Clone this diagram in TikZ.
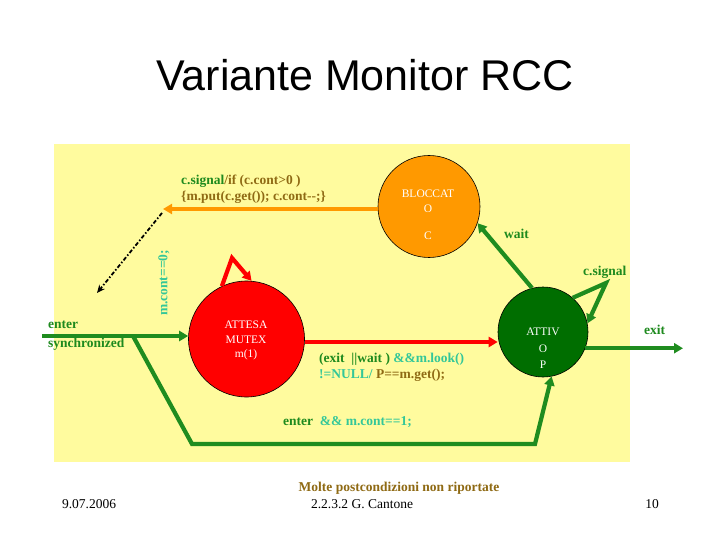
\documentclass[tikz,border=0pt]{standalone}
\usepackage{fontspec}
\setmainfont{Liberation Serif}
\newfontfamily\titlefont{Liberation Sans}
\usetikzlibrary{arrows.meta}
\definecolor{bgyellow}{HTML}{FFFB9E}
\definecolor{borange}{HTML}{FF9900}
\definecolor{bred}{HTML}{FF0000}
\definecolor{cgreen}{HTML}{006E00}
\definecolor{agreen}{HTML}{1F8C1F}
\definecolor{tgreen}{HTML}{1E8A1E}
\definecolor{tteal}{HTML}{33C799}
\definecolor{tolive}{HTML}{8F6A14}
\tikzset{
  state/.style={circle, draw=black, line width=0.6pt, inner sep=0pt},
  tip/.style={-{Triangle[length=9pt,width=10pt]}},
  garrow/.style={draw=agreen, line width=4.2pt, tip, line join=miter},
  rarrow/.style={draw=bred, line width=4.2pt, tip},
  oarrow/.style={draw=borange, line width=4.2pt, tip},
  lbl/.style={font=\fontsize{13.5}{16}\selectfont\bfseries, inner sep=0pt, anchor=base west},
  intext/.style={font=\fontsize{11.5}{13}\selectfont, text=white, inner sep=0pt, anchor=base},
  foot/.style={font=\fontsize{13.5}{15}\selectfont, inner sep=0pt, anchor=base},
}
\begin{document}
\begin{tikzpicture}[x=1pt,y=-1pt]
\useasboundingbox (0,0) rectangle (720,540);
\fill[white] (0,0) rectangle (720,540);
\fill[bgyellow] (54,144) rectangle (630,462);

\node[font=\fontsize{43}{50}\selectfont\titlefont, inner sep=0pt, anchor=base] (title) at (365,91) {Variante Monitor RCC};

% states
\node[state, fill=bred, minimum size=116pt] (attesa) at (246.5,339) {};
\node[state, fill=borange, minimum size=102pt] (blocc) at (429,206.5) {};
\node[state, fill=cgreen, minimum size=90pt] (attivo) at (543,332) {};

\node[intext] (t1a) at (246,328) {ATTESA};
\node[intext] (t1b) at (246,343) {MUTEX};
\node[intext] (t1c) at (246,357) {m(1)};
\node[intext] (t2a) at (428,198) {BLOCCAT};
\node[intext] (t2b) at (428,213) {O};
\node[intext] (t2c) at (428,240) {C};
\node[intext] (t3a) at (543,335) {ATTIV};
\node[intext] (t3b) at (543,352) {O};
\node[intext] (t3c) at (543,368) {P};

% coordinates
\coordinate (ctip) at (163,209);
\coordinate (dstart) at (162,213);
\coordinate (dend) at (97,293);
\coordinate (redapex) at (232,258);
\coordinate (rl) at (400,342);
\coordinate (enterstart) at (42,336);
\coordinate (split) at (133,336);
\coordinate (bend1) at (192,444);
\coordinate (bend2) at (535,444);
\coordinate (gapex) at (606,283);
\coordinate (exitend) at (683,348);

% connectors
\draw[oarrow] (blocc.west |- ctip) -- (ctip);
\draw[black, line width=1.8pt, dash pattern=on 4pt off 2pt on 1.5pt off 2pt, -{Stealth[length=8pt,width=7pt]}] (dstart) -- (dend);
\draw[rarrow] (attesa.115) -- (redapex) -- (attesa.85);
\draw[rarrow] (attesa.east |- rl) -- (attivo.west |- rl);
\draw[garrow] (enterstart) -- (attesa.west |- enterstart);
\draw[garrow] (split) -- (bend1) -- (bend2) -- (attivo.-79);
\draw[garrow] (attivo.104) -- (blocc.-19);
\draw[garrow] (attivo.49) -- (gapex) -- (attivo.11);
\draw[garrow] (attivo.-21) -- (attivo.-21 -| exitend);

% labels
\node[lbl] (l1) at (181,185) {\textcolor{tgreen}{c.signal}\textcolor{tolive}{/if (c.cont>0 )}};
\node[lbl, text=tolive] (l2) at (181,201) {\{m.put(c.get()); c.cont-{}-;\}};
\node[lbl, text=tteal, rotate=90, anchor=center] (l3) at (164,283) {m.cont==0;};
\node[lbl, text=tgreen] (l4) at (48,328) {enter};
\node[lbl, text=tgreen] (l5) at (48,347) {synchronized};
\node[lbl, text=tgreen] (l6) at (504,239) {wait};
\node[lbl, text=tgreen] (l7) at (583,275) {c.signal};
\node[lbl, text=tgreen] (l8) at (644,334) {exit};
\node[lbl] (l9) at (319,362) {\textcolor{tgreen}{(exit \ ||wait )} \textcolor{tteal}{\&\&m.look()}};
\node[lbl] (l10) at (319,378) {\textcolor{tteal}{!=NULL/} \textcolor{tolive}{P==m.get();}};
\node[lbl] (l11) at (283,425) {\textcolor{tgreen}{enter} \ \textcolor{tteal}{\&\& m.cont==1;}};

\node[lbl, text=tolive, anchor=base] (note) at (399,491) {Molte postcondizioni non riportate};
\node[foot] (date) at (89,508) {9.07.2006};
\node[foot] (auth) at (362,508) {2.2.3.2 G. Cantone};
\node[foot] (page) at (652,508) {10};
\end{tikzpicture}
\end{document}
